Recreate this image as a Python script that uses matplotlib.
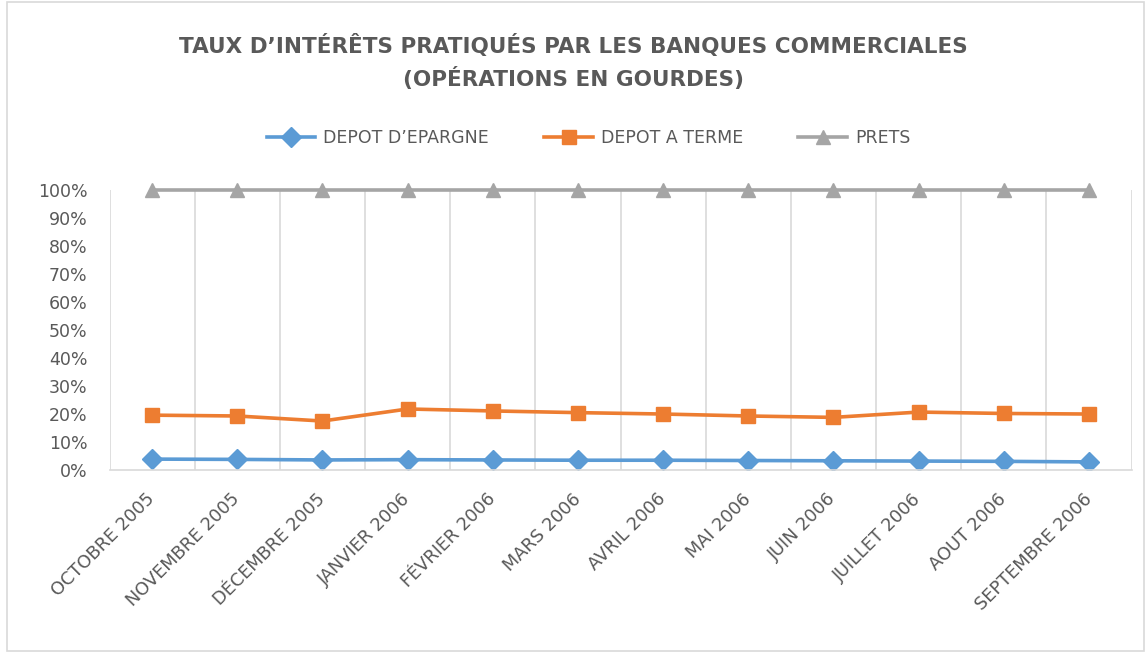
import matplotlib
matplotlib.use("Agg")
import matplotlib.pyplot as plt
from matplotlib.patches import Rectangle
from matplotlib.ticker import PercentFormatter

# data
mois = ["OCTOBRE 2005", "NOVEMBRE 2005", "DÉCEMBRE 2005", "JANVIER 2006",
        "FÉVRIER 2006", "MARS 2006", "AVRIL 2006", "MAI 2006", "JUIN 2006",
        "JUILLET 2006", "AOUT 2006", "SEPTEMBRE 2006"]
depot_epargne = [3.9, 3.8, 3.6, 3.7, 3.6, 3.5, 3.5, 3.4, 3.3, 3.2, 3.1, 2.9]
depot_terme = [19.6, 19.3, 17.5, 21.8, 21.1, 20.5, 20.0, 19.3, 18.8, 20.7, 20.2, 20.0]
prets = [100] * 12

txt = "#595959"
grid = "#d9d9d9"

fig = plt.figure(figsize=(11.47, 6.53), dpi=100)
ax = fig.add_axes([0.0955, 0.2802, 0.891, 0.4288])

x = range(len(mois))
ax.plot(x, depot_epargne, color="#5B9BD5", lw=2.6, marker="D", ms=10, label="DEPOT D’EPARGNE")
ax.plot(x, depot_terme, color="#ED7D31", lw=2.6, marker="s", ms=10.5, label="DEPOT A TERME")
ax.plot(x, prets, color="#A5A5A5", lw=2.6, marker="^", ms=10.5, label="PRETS", clip_on=False)

ax.set_xlim(-0.5, len(mois) - 0.5)
ax.set_ylim(0, 100)
ax.set_yticks(range(0, 101, 10))
ax.yaxis.set_major_formatter(PercentFormatter(decimals=0))
ax.set_xticks(list(x))
ax.set_xticklabels(mois, rotation=45, ha="right", va="center", rotation_mode="anchor",
                   fontsize=12.8, color=txt)
ax.tick_params(axis="x", length=0, pad=19)
ax.tick_params(axis="y", length=0, pad=16, labelsize=12.5, labelcolor=txt)

# vertical gridlines between categories
for b in [i - 0.5 for i in range(len(mois) + 1)]:
    ax.axvline(b, color=grid, lw=1.2, zorder=0)
for s in ["top", "right", "left"]:
    ax.spines[s].set_visible(False)
ax.spines["bottom"].set_color(grid)
ax.spines["bottom"].set_linewidth(1.2)

fig.text(0.5, 0.905, "TAUX D’INTÉRÊTS PRATIQUÉS PAR LES BANQUES COMMERCIALES\n(OPÉRATIONS EN GOURDES)",
         ha="center", va="center", fontsize=15.5, fontweight="bold", color=txt, linespacing=1.55)

fig.legend(loc="center", bbox_to_anchor=(0.513, 0.789), ncol=3, frameon=False,
           fontsize=12.5, labelcolor=txt, handlelength=2.8, columnspacing=3.2, handletextpad=0.45)

fig.patches.append(Rectangle((7 / 1147, 2 / 653), 1137 / 1147, 649 / 653, transform=fig.transFigure,
                             fill=False, edgecolor=grid, lw=1.2))

fig.savefig("out.png", dpi=100)
